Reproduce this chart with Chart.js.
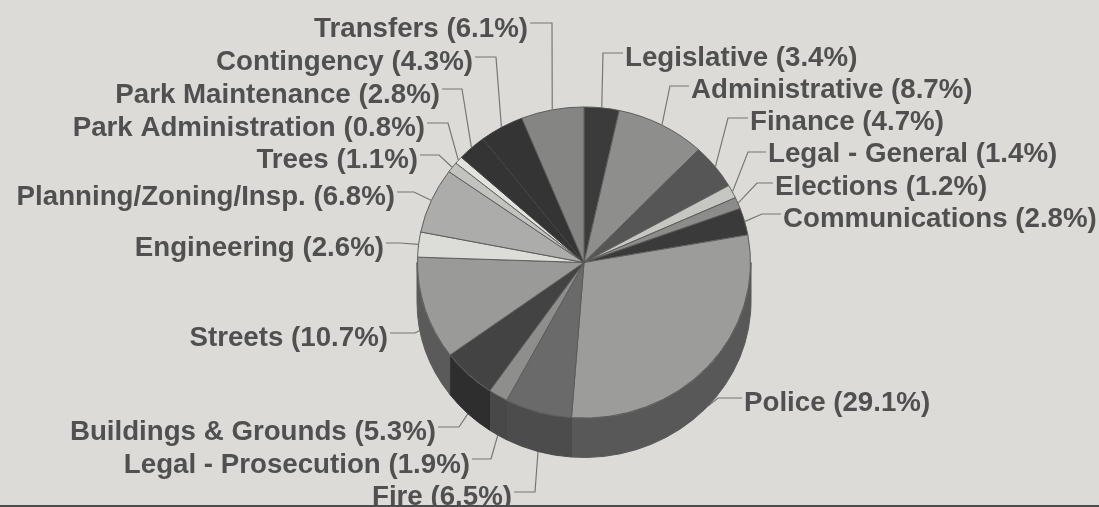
<!DOCTYPE html>
<html>
<head>
<meta charset="utf-8">
<title>Budget by department</title>
<script src="https://cdn.jsdelivr.net/npm/chart.js@4"></script>
<style>
  html, body { margin: 0; padding: 0; background: #dcdbd7; overflow: hidden; }
  canvas { display: block; }
</style>
</head>
<body>
<canvas id="budgetPie" width="1099" height="507"></canvas>
<script>
const departments = [
  "Legislative", "Administrative", "Finance", "Legal - General", "Elections",
  "Communications", "Police", "Fire", "Legal - Prosecution", "Buildings & Grounds",
  "Streets", "Engineering", "Planning/Zoning/Insp.", "Trees", "Park Administration",
  "Park Maintenance", "Contingency", "Transfers",
];
const shares = [3.4, 8.7, 4.7, 1.4, 1.2, 2.8, 29.1, 6.5, 1.9, 5.3, 10.7, 2.6, 6.8, 1.1, 0.8, 2.8, 4.3, 6.1];

const topColors = [
  "#3b3b3b", "#8e8e8c", "#565656", "#c6c6c2", "#8c8c8a", "#3a3a3a",
  "#9c9c9a", "#6a6a6a", "#8e8e8c", "#434343", "#9a9a98", "#dcdcd8",
  "#acacaa", "#c2c2be", "#e2e2de", "#343434", "#343434", "#858583",
];
const sideColors = [
  "#2a2a2a", "#606060", "#3a3a3a", "#888888", "#606060", "#2a2a2a",
  "#585858", "#4c4c4c", "#484848", "#2e2e2e", "#5a5a5a", "#909090",
  "#707070", "#808080", "#909090", "#2a2a2a", "#2a2a2a", "#5a5a5a",
];
// the two dark park/contingency slices only show a faint seam between them
const edgeColors = topColors.map((color, i) => (i === 15 || i === 16 ? "#424242" : "#5a5a58"));

// [text anchor x, text y, leader y, elbow x, share of wall height the leader drops]
// right-hand labels start at x, left-hand ones end there
const labelLayout = [
  [625, 58, 53, 603, 0], [691, 90, 86, 670, 0], [750, 122, 118, 728, 0],
  [768, 154, 152, 748, 0], [775, 187, 183, 757, 0], [783, 219, 214, 762, 0],
  [744, 403, 398, 718, 1], [512, 497, 492, 535, 1], [470, 465, 459, 491, 1],
  [436, 432, 427, 459, 1], [388, 338, 333, 415, 0.5], [384, 248, 243, 400, 0],
  [395, 197, 192, 414, 0], [418, 160, 155, 439, 0], [425, 128, 123, 448, 0],
  [440, 95, 89, 462, 0], [473, 62, 57, 496, 0], [528, 29, 23, 552, 0],
];

const EDGE_RADIUS_X = 167;
const EDGE_RADIUS_Y = 156;
const PIE_DEPTH = 39;
const squash = EDGE_RADIUS_Y / EDGE_RADIUS_X;

// Side wall of the disc, only the part of each slice facing the viewer
function drawWall(ctx, arc, color) {
  const start = Math.max(arc.startAngle, 0);
  const end = Math.min(arc.endAngle, Math.PI);
  if (end <= start) return;
  ctx.beginPath();
  ctx.ellipse(arc.x, arc.y, EDGE_RADIUS_X, EDGE_RADIUS_Y, 0, start, end);
  ctx.ellipse(arc.x, arc.y + PIE_DEPTH, EDGE_RADIUS_X, EDGE_RADIUS_Y, 0, end, start, true);
  ctx.closePath();
  ctx.fillStyle = color;
  ctx.fill();
  ctx.strokeStyle = color;
  ctx.lineWidth = 1;
  ctx.stroke();
}

function drawLabel(ctx, arc, i) {
  const [anchorX, textY, leaderY, elbowX, drop] = labelLayout[i];
  const mid = (arc.startAngle + arc.endAngle) / 2;
  const rimX = arc.x + EDGE_RADIUS_X * Math.cos(mid);
  const rimY = arc.y + EDGE_RADIUS_Y * Math.sin(mid) + PIE_DEPTH * drop;
  const onRight = i < 7;

  ctx.beginPath();
  ctx.moveTo(onRight ? anchorX - 2 : anchorX + 2, leaderY);
  ctx.lineTo(elbowX, leaderY);
  ctx.lineTo(rimX, rimY);
  ctx.strokeStyle = "#777774";
  ctx.lineWidth = 1.2;
  ctx.stroke();

  ctx.font = "bold 27.7px 'Liberation Sans', Arial, sans-serif";
  ctx.fillStyle = "#505050";
  ctx.textBaseline = "middle";
  ctx.textAlign = onRight ? "left" : "right";
  ctx.fillText(`${departments[i]} (${shares[i].toFixed(1)}%)`, anchorX, textY);
}

const extrudedPie = {
  id: "extrudedPie",
  beforeDatasetsDraw(chart) {
    const ctx = chart.ctx;
    const arcs = chart.getDatasetMeta(0).data;
    ctx.save();
    arcs.forEach((arc, i) => drawLabel(ctx, arc, i));
    arcs.forEach((arc, i) => drawWall(ctx, arc, sideColors[i]));
    // flatten the circular slices into the disc's top face
    const { x, y } = arcs[0];
    ctx.translate(x, y);
    ctx.scale(1, squash);
    ctx.translate(-x, -y);
  },
  afterDatasetsDraw(chart) {
    const ctx = chart.ctx;
    ctx.restore();
    // rule under the figure
    ctx.fillStyle = "#4c4c4c";
    ctx.fillRect(0, 505, chart.width, 2);
  },
};

new Chart(document.getElementById("budgetPie"), {
  type: "pie",
  data: {
    labels: departments,
    datasets: [
      {
        data: shares,
        backgroundColor: topColors,
        borderColor: edgeColors,
        borderWidth: 1,
      },
    ],
  },
  options: {
    responsive: false,
    animation: false,
    layout: { padding: { left: 417, right: 348, top: 95.5, bottom: 77.5 } },
    plugins: { legend: { display: false }, tooltip: { enabled: false } },
  },
  plugins: [extrudedPie],
});
</script>
</body>
</html>
